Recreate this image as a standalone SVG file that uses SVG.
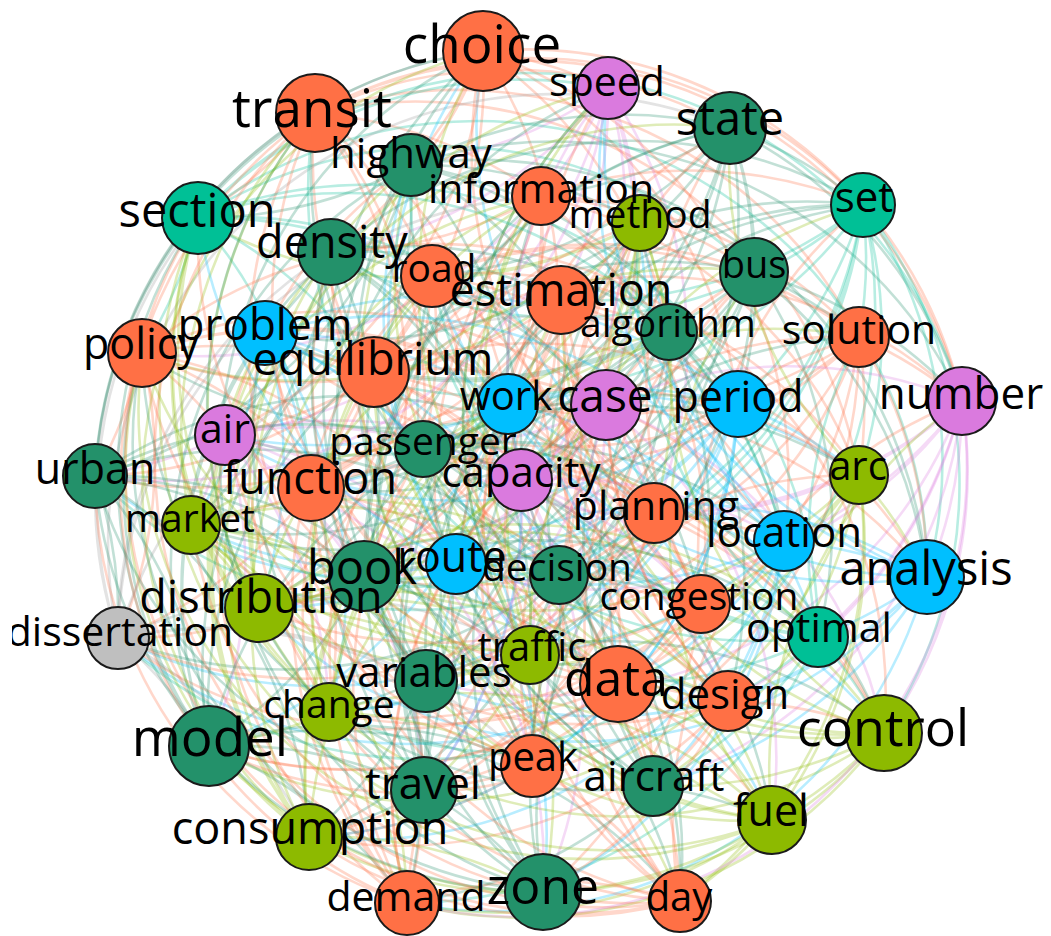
<svg xmlns="http://www.w3.org/2000/svg" width="1051" height="936" viewBox="0 0 1051 936">
<style>
#edges path{fill:none;stroke-width:2.6;stroke-opacity:.28}
.eo{stroke:#ff7045}.eg{stroke:#23916a}.et{stroke:#00c096}.el{stroke:#8dba00}.ep{stroke:#da7ade}.ec{stroke:#00bfff}.ex{stroke:#999}
.n circle{stroke:#1a1a1a;stroke-width:2}
.o{fill:#ff7045}.g{fill:#23916a}.t{fill:#00c096}.l{fill:#8dba00}.p{fill:#da7ade}.c{fill:#00bfff}.x{fill:#bfbfbf}
.n text{font-family:"Open Sans","Noto Sans",sans-serif;fill:#000;text-anchor:middle}
</style>
<defs><clipPath id="cp"><rect x="12" y="0" width="1039" height="936"/></clipPath></defs>
<rect width="1051" height="936" fill="#fff"/>
<g id="edges">
<path class="eo" d="M483 51A450 450 0 0 1 411 165M483 51A450 450 0 0 1 331 252M483 51A450 450 0 0 1 669 332M483 51A450 450 0 0 1 374 372M483 51A450 450 0 0 1 521 480M483 51A450 450 0 0 1 608 88M483 51A450 450 0 0 1 863 205M483 51A450 450 0 0 1 738 404M483 51A450 450 0 0 1 962 401"/>
<path class="eo" d="M315 113A450 450 0 0 1 541 196M315 113A450 450 0 0 1 432 276M315 113A450 450 0 0 1 859 337M315 113A450 450 0 0 1 508 404M315 113A450 450 0 0 1 859 475M315 113A450 450 0 0 1 730 128M315 113A450 450 0 0 1 198 218M315 113A450 450 0 0 1 962 401M315 113A450 450 0 0 1 863 205"/>
<path class="ep" d="M608 88A450 450 0 0 1 640 223M608 88A450 450 0 0 1 561 300M608 88A450 450 0 0 1 142 353M608 88A450 450 0 0 1 606 405M608 88A450 450 0 0 1 654 513M608 88A450 450 0 0 1 411 165M608 88A450 450 0 0 1 331 252M608 88A450 450 0 0 1 225 435"/>
<path class="eg" d="M730 128A450 450 0 0 1 863 205M730 128A450 450 0 0 1 754 272M730 128A450 450 0 0 1 265 333M730 128A450 450 0 0 1 738 404M730 128A450 450 0 0 1 191 525M730 128A450 450 0 0 1 541 196M730 128A450 450 0 0 1 432 276M730 128A450 450 0 0 1 423 449M730 128A450 450 0 0 1 962 401"/>
<path class="eg" d="M411 165A450 450 0 0 1 198 218M411 165A450 450 0 0 1 669 332M411 165A450 450 0 0 1 374 372M411 165A450 450 0 0 1 962 401M411 165A450 450 0 0 1 784 541M411 165A450 450 0 0 1 640 223M411 165A450 450 0 0 1 561 300M411 165A450 450 0 0 1 95 476"/>
<path class="eo" d="M541 196A450 450 0 0 1 331 252M541 196A450 450 0 0 1 859 337M541 196A450 450 0 0 1 508 404M541 196A450 450 0 0 1 225 435M541 196A450 450 0 0 1 364 576M541 196A450 450 0 0 1 863 205M541 196A450 450 0 0 1 754 272M541 196A450 450 0 0 1 311 488"/>
<path class="el" d="M640 223A450 450 0 0 1 432 276M640 223A450 450 0 0 1 142 353M640 223A450 450 0 0 1 606 405M640 223A450 450 0 0 1 423 449M640 223A450 450 0 0 1 456 564M640 223A450 450 0 0 1 198 218M640 223A450 450 0 0 1 669 332M640 223A450 450 0 0 1 521 480"/>
<path class="et" d="M863 205A450 450 0 0 1 561 300M863 205A450 450 0 0 1 265 333M863 205A450 450 0 0 1 738 404M863 205A450 450 0 0 1 95 476M863 205A450 450 0 0 1 559 575M863 205A450 450 0 0 1 331 252M863 205A450 450 0 0 1 859 337M863 205A450 450 0 0 1 859 475M863 205A450 450 0 0 1 884 733M863 205A450 450 0 0 1 927 577"/>
<path class="et" d="M198 218A450 450 0 0 1 754 272M198 218A450 450 0 0 1 374 372M198 218A450 450 0 0 1 962 401M198 218A450 450 0 0 1 311 488M198 218A450 450 0 0 1 927 577M198 218A450 450 0 0 1 432 276M198 218A450 450 0 0 1 142 353M198 218A450 450 0 0 1 654 513M198 218A450 450 0 0 1 608 88"/>
<path class="eg" d="M331 252A450 450 0 0 1 669 332M331 252A450 450 0 0 1 508 404M331 252A450 450 0 0 1 225 435M331 252A450 450 0 0 1 521 480M331 252A450 450 0 0 1 701 604M331 252A450 450 0 0 1 561 300M331 252A450 450 0 0 1 265 333M331 252A450 450 0 0 1 191 525"/>
<path class="eo" d="M432 276A450 450 0 0 1 859 337M432 276A450 450 0 0 1 606 405M432 276A450 450 0 0 1 423 449M432 276A450 450 0 0 1 859 475M432 276A450 450 0 0 1 259 608M432 276A450 450 0 0 1 754 272M432 276A450 450 0 0 1 374 372M432 276A450 450 0 0 1 784 541"/>
<path class="eo" d="M561 300A450 450 0 0 1 142 353M561 300A450 450 0 0 1 738 404M561 300A450 450 0 0 1 95 476M561 300A450 450 0 0 1 654 513M561 300A450 450 0 0 1 118 638M561 300A450 450 0 0 1 669 332M561 300A450 450 0 0 1 508 404M561 300A450 450 0 0 1 364 576"/>
<path class="eg" d="M754 272A450 450 0 0 1 265 333M754 272A450 450 0 0 1 962 401M754 272A450 450 0 0 1 311 488M754 272A450 450 0 0 1 191 525M754 272A450 450 0 0 1 818 637M754 272A450 450 0 0 1 859 337M754 272A450 450 0 0 1 606 405M754 272A450 450 0 0 1 456 564"/>
<path class="eg" d="M669 332A450 450 0 0 1 374 372M669 332A450 450 0 0 1 225 435M669 332A450 450 0 0 1 521 480M669 332A450 450 0 0 1 784 541M669 332A450 450 0 0 1 530 655M669 332A450 450 0 0 1 142 353M669 332A450 450 0 0 1 738 404M669 332A450 450 0 0 1 559 575"/>
<path class="eo" d="M859 337A450 450 0 0 1 508 404M859 337A450 450 0 0 1 423 449M859 337A450 450 0 0 1 859 475M859 337A450 450 0 0 1 364 576M859 337A450 450 0 0 1 618 684M859 337A450 450 0 0 1 265 333M859 337A450 450 0 0 1 962 401M859 337A450 450 0 0 1 927 577"/>
<path class="eo" d="M142 353A450 450 0 0 1 606 405M142 353A450 450 0 0 1 95 476M142 353A450 450 0 0 1 654 513M142 353A450 450 0 0 1 456 564M142 353A450 450 0 0 1 426 681M142 353A450 450 0 0 1 374 372M142 353A450 450 0 0 1 225 435M142 353A450 450 0 0 1 701 604"/>
<path class="ec" d="M265 333A450 450 0 0 1 738 404M265 333A450 450 0 0 1 311 488M265 333A450 450 0 0 1 191 525M265 333A450 450 0 0 1 559 575M265 333A450 450 0 0 1 329 712M265 333A450 450 0 0 1 508 404M265 333A450 450 0 0 1 423 449M265 333A450 450 0 0 1 259 608"/>
<path class="eo" d="M374 372A450 450 0 0 1 962 401M374 372A450 450 0 0 1 521 480M374 372A450 450 0 0 1 784 541M374 372A450 450 0 0 1 927 577M374 372A450 450 0 0 1 728 701M374 372A450 450 0 0 1 606 405M374 372A450 450 0 0 1 95 476M374 372A450 450 0 0 1 118 638"/>
<path class="ec" d="M508 404A450 450 0 0 1 225 435M508 404A450 450 0 0 1 859 475M508 404A450 450 0 0 1 364 576M508 404A450 450 0 0 1 701 604M508 404A450 450 0 0 1 209 746M508 404A450 450 0 0 1 738 404M508 404A450 450 0 0 1 311 488M508 404A450 450 0 0 1 818 637"/>
<path class="ep" d="M606 405A450 450 0 0 1 423 449M606 405A450 450 0 0 1 654 513M606 405A450 450 0 0 1 456 564M606 405A450 450 0 0 1 259 608M606 405A450 450 0 0 1 884 733M606 405A450 450 0 0 1 962 401M606 405A450 450 0 0 1 521 480M606 405A450 450 0 0 1 530 655"/>
<path class="ec" d="M738 404A450 450 0 0 1 95 476M738 404A450 450 0 0 1 191 525M738 404A450 450 0 0 1 559 575M738 404A450 450 0 0 1 118 638M738 404A450 450 0 0 1 532 766M738 404A450 450 0 0 1 225 435M738 404A450 450 0 0 1 859 475M738 404A450 450 0 0 1 618 684"/>
<path class="ep" d="M962 401A450 450 0 0 1 311 488M962 401A450 450 0 0 1 784 541M962 401A450 450 0 0 1 927 577M962 401A450 450 0 0 1 818 637M962 401A450 450 0 0 1 653 786M962 401A450 450 0 0 1 423 449M962 401A450 450 0 0 1 654 513M962 401A450 450 0 0 1 426 681M962 401A450 450 0 0 1 884 733"/>
<path class="ep" d="M225 435A450 450 0 0 1 521 480M225 435A450 450 0 0 1 364 576M225 435A450 450 0 0 1 701 604M225 435A450 450 0 0 1 530 655M225 435A450 450 0 0 1 424 790M225 435A450 450 0 0 1 95 476M225 435A450 450 0 0 1 191 525M225 435A450 450 0 0 1 329 712"/>
<path class="eg" d="M423 449A450 450 0 0 1 859 475M423 449A450 450 0 0 1 456 564M423 449A450 450 0 0 1 259 608M423 449A450 450 0 0 1 618 684M423 449A450 450 0 0 1 772 820M423 449A450 450 0 0 1 311 488M423 449A450 450 0 0 1 784 541M423 449A450 450 0 0 1 728 701"/>
<path class="eg" d="M95 476A450 450 0 0 1 654 513M95 476A450 450 0 0 1 559 575M95 476A450 450 0 0 1 118 638M95 476A450 450 0 0 1 426 681M95 476A450 450 0 0 1 309 837M95 476A450 450 0 0 1 521 480M95 476A450 450 0 0 1 364 576M95 476A450 450 0 0 1 209 746M95 476A450 450 0 0 1 315 113"/>
<path class="eo" d="M311 488A450 450 0 0 1 191 525M311 488A450 450 0 0 1 927 577M311 488A450 450 0 0 1 818 637M311 488A450 450 0 0 1 329 712M311 488A450 450 0 0 1 407 903M311 488A450 450 0 0 1 859 475M311 488A450 450 0 0 1 456 564M311 488A450 450 0 0 1 884 733"/>
<path class="ep" d="M521 480A450 450 0 0 1 784 541M521 480A450 450 0 0 1 701 604M521 480A450 450 0 0 1 530 655M521 480A450 450 0 0 1 728 701M521 480A450 450 0 0 1 543 892M521 480A450 450 0 0 1 654 513M521 480A450 450 0 0 1 559 575M521 480A450 450 0 0 1 532 766"/>
<path class="el" d="M859 475A450 450 0 0 1 364 576M859 475A450 450 0 0 1 259 608M859 475A450 450 0 0 1 618 684M859 475A450 450 0 0 1 209 746M859 475A450 450 0 0 1 680 901M859 475A450 450 0 0 1 191 525M859 475A450 450 0 0 1 927 577M859 475A450 450 0 0 1 653 786"/>
<path class="eo" d="M654 513A450 450 0 0 1 456 564M654 513A450 450 0 0 1 118 638M654 513A450 450 0 0 1 426 681M654 513A450 450 0 0 1 884 733M654 513A450 450 0 0 1 483 51M654 513A450 450 0 0 1 784 541M654 513A450 450 0 0 1 701 604M654 513A450 450 0 0 1 424 790"/>
<path class="el" d="M191 525A450 450 0 0 1 559 575M191 525A450 450 0 0 1 818 637M191 525A450 450 0 0 1 329 712M191 525A450 450 0 0 1 532 766M191 525A450 450 0 0 1 315 113M191 525A450 450 0 0 1 364 576M191 525A450 450 0 0 1 259 608M191 525A450 450 0 0 1 772 820"/>
<path class="ec" d="M784 541A450 450 0 0 1 927 577M784 541A450 450 0 0 1 530 655M784 541A450 450 0 0 1 728 701M784 541A450 450 0 0 1 653 786M784 541A450 450 0 0 1 608 88M784 541A450 450 0 0 1 456 564M784 541A450 450 0 0 1 118 638M784 541A450 450 0 0 1 309 837"/>
<path class="eg" d="M364 576A450 450 0 0 1 701 604M364 576A450 450 0 0 1 618 684M364 576A450 450 0 0 1 209 746M364 576A450 450 0 0 1 424 790M364 576A450 450 0 0 1 730 128M364 576A450 450 0 0 1 559 575M364 576A450 450 0 0 1 818 637M364 576A450 450 0 0 1 407 903"/>
<path class="ec" d="M456 564A450 450 0 0 1 259 608M456 564A450 450 0 0 1 426 681M456 564A450 450 0 0 1 884 733M456 564A450 450 0 0 1 772 820M456 564A450 450 0 0 1 411 165M456 564A450 450 0 0 1 927 577M456 564A450 450 0 0 1 530 655M456 564A450 450 0 0 1 543 892"/>
<path class="eg" d="M559 575A450 450 0 0 1 118 638M559 575A450 450 0 0 1 329 712M559 575A450 450 0 0 1 532 766M559 575A450 450 0 0 1 309 837M559 575A450 450 0 0 1 541 196M559 575A450 450 0 0 1 701 604M559 575A450 450 0 0 1 618 684M559 575A450 450 0 0 1 680 901"/>
<path class="ec" d="M927 577A450 450 0 0 1 818 637M927 577A450 450 0 0 1 728 701M927 577A450 450 0 0 1 653 786M927 577A450 450 0 0 1 407 903M927 577A450 450 0 0 1 640 223M927 577A450 450 0 0 1 259 608M927 577A450 450 0 0 1 426 681M927 577A450 450 0 0 1 483 51"/>
<path class="eo" d="M701 604A450 450 0 0 1 530 655M701 604A450 450 0 0 1 209 746M701 604A450 450 0 0 1 424 790M701 604A450 450 0 0 1 543 892M701 604A450 450 0 0 1 863 205M701 604A450 450 0 0 1 118 638M701 604A450 450 0 0 1 329 712M701 604A450 450 0 0 1 315 113"/>
<path class="el" d="M259 608A450 450 0 0 1 618 684M259 608A450 450 0 0 1 884 733M259 608A450 450 0 0 1 772 820M259 608A450 450 0 0 1 680 901M259 608A450 450 0 0 1 198 218M259 608A450 450 0 0 1 818 637M259 608A450 450 0 0 1 728 701M259 608A450 450 0 0 1 608 88"/>
<path class="ex" d="M118 638A450 450 0 0 1 426 681M118 638A450 450 0 0 1 532 766M118 638A450 450 0 0 1 309 837M118 638A450 450 0 0 1 483 51M118 638A450 450 0 0 1 331 252M118 638A450 450 0 0 1 530 655M118 638A450 450 0 0 1 209 746M118 638A450 450 0 0 1 730 128M118 638A450 450 0 0 1 198 218"/>
<path class="et" d="M818 637A450 450 0 0 1 329 712M818 637A450 450 0 0 1 653 786M818 637A450 450 0 0 1 407 903M818 637A450 450 0 0 1 315 113M818 637A450 450 0 0 1 432 276M818 637A450 450 0 0 1 618 684M818 637A450 450 0 0 1 884 733M818 637A450 450 0 0 1 411 165"/>
<path class="el" d="M530 655A450 450 0 0 1 728 701M530 655A450 450 0 0 1 424 790M530 655A450 450 0 0 1 543 892M530 655A450 450 0 0 1 608 88M530 655A450 450 0 0 1 561 300M530 655A450 450 0 0 1 426 681M530 655A450 450 0 0 1 532 766M530 655A450 450 0 0 1 541 196"/>
<path class="eo" d="M618 684A450 450 0 0 1 209 746M618 684A450 450 0 0 1 772 820M618 684A450 450 0 0 1 680 901M618 684A450 450 0 0 1 730 128M618 684A450 450 0 0 1 754 272M618 684A450 450 0 0 1 329 712M618 684A450 450 0 0 1 653 786M618 684A450 450 0 0 1 640 223"/>
<path class="eg" d="M426 681A450 450 0 0 1 884 733M426 681A450 450 0 0 1 309 837M426 681A450 450 0 0 1 483 51M426 681A450 450 0 0 1 411 165M426 681A450 450 0 0 1 669 332M426 681A450 450 0 0 1 728 701M426 681A450 450 0 0 1 424 790M426 681A450 450 0 0 1 863 205"/>
<path class="el" d="M329 712A450 450 0 0 1 532 766M329 712A450 450 0 0 1 407 903M329 712A450 450 0 0 1 315 113M329 712A450 450 0 0 1 541 196M329 712A450 450 0 0 1 859 337M329 712A450 450 0 0 1 209 746M329 712A450 450 0 0 1 772 820M329 712A450 450 0 0 1 198 218"/>
<path class="eo" d="M728 701A450 450 0 0 1 653 786M728 701A450 450 0 0 1 543 892M728 701A450 450 0 0 1 608 88M728 701A450 450 0 0 1 640 223M728 701A450 450 0 0 1 142 353M728 701A450 450 0 0 1 884 733M728 701A450 450 0 0 1 309 837M728 701A450 450 0 0 1 331 252"/>
<path class="eg" d="M209 746A450 450 0 0 1 424 790M209 746A450 450 0 0 1 680 901M209 746A450 450 0 0 1 730 128M209 746A450 450 0 0 1 863 205M209 746A450 450 0 0 1 265 333M209 746A450 450 0 0 1 532 766M209 746A450 450 0 0 1 407 903M209 746A450 450 0 0 1 432 276M209 746A450 450 0 0 1 198 218M209 746A450 450 0 0 1 142 353"/>
<path class="el" d="M884 733A450 450 0 0 1 772 820M884 733A450 450 0 0 1 483 51M884 733A450 450 0 0 1 411 165M884 733A450 450 0 0 1 198 218M884 733A450 450 0 0 1 374 372M884 733A450 450 0 0 1 653 786M884 733A450 450 0 0 1 543 892M884 733A450 450 0 0 1 561 300M884 733A450 450 0 0 1 407 903M884 733A450 450 0 0 1 209 746"/>
<path class="eo" d="M532 766A450 450 0 0 1 309 837M532 766A450 450 0 0 1 315 113M532 766A450 450 0 0 1 541 196M532 766A450 450 0 0 1 331 252M532 766A450 450 0 0 1 508 404M532 766A450 450 0 0 1 424 790M532 766A450 450 0 0 1 680 901M532 766A450 450 0 0 1 754 272"/>
<path class="eg" d="M653 786A450 450 0 0 1 407 903M653 786A450 450 0 0 1 608 88M653 786A450 450 0 0 1 640 223M653 786A450 450 0 0 1 432 276M653 786A450 450 0 0 1 606 405M653 786A450 450 0 0 1 772 820M653 786A450 450 0 0 1 483 51M653 786A450 450 0 0 1 669 332"/>
<path class="eg" d="M424 790A450 450 0 0 1 543 892M424 790A450 450 0 0 1 730 128M424 790A450 450 0 0 1 863 205M424 790A450 450 0 0 1 561 300M424 790A450 450 0 0 1 738 404M424 790A450 450 0 0 1 309 837M424 790A450 450 0 0 1 315 113M424 790A450 450 0 0 1 859 337"/>
<path class="el" d="M772 820A450 450 0 0 1 680 901M772 820A450 450 0 0 1 411 165M772 820A450 450 0 0 1 198 218M772 820A450 450 0 0 1 754 272M772 820A450 450 0 0 1 962 401M772 820A450 450 0 0 1 407 903M772 820A450 450 0 0 1 608 88M772 820A450 450 0 0 1 142 353M772 820A450 450 0 0 1 309 837"/>
<path class="el" d="M309 837A450 450 0 0 1 483 51M309 837A450 450 0 0 1 541 196M309 837A450 450 0 0 1 331 252M309 837A450 450 0 0 1 669 332M309 837A450 450 0 0 1 225 435M309 837A450 450 0 0 1 543 892M309 837A450 450 0 0 1 730 128M309 837A450 450 0 0 1 265 333M309 837A450 450 0 0 1 142 353"/>
<path class="eo" d="M407 903A450 450 0 0 1 315 113M407 903A450 450 0 0 1 640 223M407 903A450 450 0 0 1 432 276M407 903A450 450 0 0 1 859 337M407 903A450 450 0 0 1 423 449M407 903A450 450 0 0 1 680 901M407 903A450 450 0 0 1 411 165M407 903A450 450 0 0 1 374 372M407 903A450 450 0 0 1 95 476"/>
<path class="eg" d="M543 892A450 450 0 0 1 608 88M543 892A450 450 0 0 1 863 205M543 892A450 450 0 0 1 561 300M543 892A450 450 0 0 1 142 353M543 892A450 450 0 0 1 95 476M543 892A450 450 0 0 1 483 51M543 892A450 450 0 0 1 541 196M543 892A450 450 0 0 1 508 404"/>
<path class="eo" d="M680 901A450 450 0 0 1 730 128M680 901A450 450 0 0 1 198 218M680 901A450 450 0 0 1 754 272M680 901A450 450 0 0 1 265 333M680 901A450 450 0 0 1 311 488M680 901A450 450 0 0 1 315 113M680 901A450 450 0 0 1 640 223M680 901A450 450 0 0 1 606 405M680 901A450 450 0 0 1 309 837"/>
<path class="eo" d="M483 51A450 450 0 0 1 225 435M483 51A450 450 0 0 1 784 541"/>
<path class="eo" d="M315 113A450 450 0 0 1 423 449M315 113A450 450 0 0 1 364 576"/>
<path class="ep" d="M608 88A450 450 0 0 1 95 476M608 88A450 450 0 0 1 456 564"/>
<path class="eg" d="M730 128A450 450 0 0 1 311 488M730 128A450 450 0 0 1 559 575"/>
<path class="eg" d="M411 165A450 450 0 0 1 521 480M411 165A450 450 0 0 1 927 577"/>
<path class="eo" d="M541 196A450 450 0 0 1 859 475M541 196A450 450 0 0 1 701 604"/>
<path class="el" d="M640 223A450 450 0 0 1 654 513M640 223A450 450 0 0 1 259 608"/>
<path class="et" d="M863 205A450 450 0 0 1 191 525M863 205A450 450 0 0 1 118 638"/>
<path class="et" d="M198 218A450 450 0 0 1 784 541M198 218A450 450 0 0 1 818 637"/>
<path class="eg" d="M331 252A450 450 0 0 1 364 576M331 252A450 450 0 0 1 530 655"/>
<path class="eo" d="M432 276A450 450 0 0 1 456 564M432 276A450 450 0 0 1 618 684"/>
<path class="eo" d="M561 300A450 450 0 0 1 559 575M561 300A450 450 0 0 1 426 681"/>
<path class="eg" d="M754 272A450 450 0 0 1 927 577M754 272A450 450 0 0 1 329 712"/>
<path class="eg" d="M669 332A450 450 0 0 1 701 604M669 332A450 450 0 0 1 728 701"/>
<path class="eo" d="M859 337A450 450 0 0 1 259 608M859 337A450 450 0 0 1 209 746"/>
<path class="eo" d="M142 353A450 450 0 0 1 118 638M142 353A450 450 0 0 1 884 733"/>
<path class="ec" d="M265 333A450 450 0 0 1 818 637M265 333A450 450 0 0 1 532 766"/>
<path class="eo" d="M374 372A450 450 0 0 1 530 655M374 372A450 450 0 0 1 653 786"/>
<path class="ec" d="M508 404A450 450 0 0 1 618 684M508 404A450 450 0 0 1 424 790"/>
<path class="ep" d="M606 405A450 450 0 0 1 426 681M606 405A450 450 0 0 1 772 820"/>
<path class="ec" d="M738 404A450 450 0 0 1 329 712M738 404A450 450 0 0 1 309 837"/>
<path class="ep" d="M962 401A450 450 0 0 1 728 701M962 401A450 450 0 0 1 407 903"/>
<path class="ep" d="M225 435A450 450 0 0 1 209 746M225 435A450 450 0 0 1 543 892"/>
<path class="eg" d="M423 449A450 450 0 0 1 884 733M423 449A450 450 0 0 1 680 901"/>
<path class="eg" d="M95 476A450 450 0 0 1 532 766M95 476A450 450 0 0 1 483 51"/>
<path class="eo" d="M311 488A450 450 0 0 1 653 786M311 488A450 450 0 0 1 315 113"/>
<path class="ep" d="M521 480A450 450 0 0 1 424 790M521 480A450 450 0 0 1 608 88"/>
<path class="el" d="M859 475A450 450 0 0 1 772 820M859 475A450 450 0 0 1 730 128"/>
<path class="eo" d="M654 513A450 450 0 0 1 309 837M654 513A450 450 0 0 1 411 165"/>
<path class="el" d="M191 525A450 450 0 0 1 407 903M191 525A450 450 0 0 1 541 196"/>
<path class="ec" d="M784 541A450 450 0 0 1 543 892M784 541A450 450 0 0 1 640 223"/>
<path class="eg" d="M364 576A450 450 0 0 1 680 901M364 576A450 450 0 0 1 863 205"/>
<path class="ec" d="M456 564A450 450 0 0 1 483 51M456 564A450 450 0 0 1 198 218"/>
<path class="eg" d="M559 575A450 450 0 0 1 315 113M559 575A450 450 0 0 1 331 252"/>
<path class="ec" d="M927 577A450 450 0 0 1 608 88M927 577A450 450 0 0 1 432 276"/>
<path class="eo" d="M701 604A450 450 0 0 1 730 128M701 604A450 450 0 0 1 561 300"/>
<path class="el" d="M259 608A450 450 0 0 1 411 165M259 608A450 450 0 0 1 754 272"/>
<path class="ex" d="M118 638A450 450 0 0 1 541 196M118 638A450 450 0 0 1 669 332"/>
<path class="et" d="M818 637A450 450 0 0 1 640 223M818 637A450 450 0 0 1 859 337"/>
<path class="el" d="M530 655A450 450 0 0 1 863 205M530 655A450 450 0 0 1 142 353"/>
<path class="eo" d="M618 684A450 450 0 0 1 198 218M618 684A450 450 0 0 1 265 333"/>
<path class="eg" d="M426 681A450 450 0 0 1 331 252M426 681A450 450 0 0 1 374 372"/>
<path class="el" d="M329 712A450 450 0 0 1 432 276M329 712A450 450 0 0 1 508 404"/>
<path class="eo" d="M728 701A450 450 0 0 1 561 300M728 701A450 450 0 0 1 606 405"/>
<path class="eg" d="M209 746A450 450 0 0 1 754 272M209 746A450 450 0 0 1 738 404"/>
<path class="el" d="M884 733A450 450 0 0 1 669 332"/>
<path class="eo" d="M532 766A450 450 0 0 1 859 337M532 766A450 450 0 0 1 225 435"/>
<path class="eg" d="M653 786A450 450 0 0 1 142 353M653 786A450 450 0 0 1 423 449"/>
<path class="eg" d="M424 790A450 450 0 0 1 265 333M424 790A450 450 0 0 1 95 476"/>
<path class="el" d="M772 820A450 450 0 0 1 374 372M772 820A450 450 0 0 1 311 488"/>
<path class="el" d="M309 837A450 450 0 0 1 508 404M309 837A450 450 0 0 1 521 480"/>
<path class="eo" d="M407 903A450 450 0 0 1 606 405M407 903A450 450 0 0 1 859 475"/>
<path class="eg" d="M543 892A450 450 0 0 1 738 404M543 892A450 450 0 0 1 654 513"/>
<path class="eo" d="M680 901A450 450 0 0 1 962 401M680 901A450 450 0 0 1 191 525"/>
</g>
<g id="nodes">
<g id="choice" class="n"><circle class="o" cx="483" cy="51" r="40"/><text x="482" y="63" font-size="53">choice</text></g>
<g id="transit" class="n"><circle class="o" cx="315" cy="113" r="39"/><text x="312" y="127" font-size="53">transit</text></g>
<g id="speed" class="n"><circle class="p" cx="608" cy="88" r="31"/><text x="607" y="96" font-size="41">speed</text></g>
<g id="state" class="n"><circle class="g" cx="730" cy="128" r="36"/><text x="730" y="135" font-size="47">state</text></g>
<g id="method" class="n"><circle class="l" cx="640" cy="223" r="28"/><text x="640" y="228" font-size="39">method</text></g>
<g id="highway" class="n"><circle class="g" cx="411" cy="165" r="31"/><text x="411" y="168" font-size="42">highway</text></g>
<g id="information" class="n"><circle class="o" cx="541" cy="196" r="29"/><text x="541" y="203" font-size="41">information</text></g>
<g id="set" class="n"><circle class="t" cx="863" cy="205" r="32"/><text x="864" y="212" font-size="42">set</text></g>
<g id="section" class="n"><circle class="t" cx="198" cy="218" r="36"/><text x="197" y="227" font-size="47">section</text></g>
<g id="road" class="n"><circle class="o" cx="432" cy="276" r="31"/><text x="434" y="282" font-size="39">road</text></g>
<g id="density" class="n"><circle class="g" cx="331" cy="252" r="33"/><text x="332" y="258" font-size="45">density</text></g>
<g id="estimation" class="n"><circle class="o" cx="561" cy="300" r="34"/><text x="561" y="306" font-size="45">estimation</text></g>
<g id="bus" class="n"><circle class="g" cx="754" cy="272" r="34"/><text x="754" y="278" font-size="38">bus</text></g>
<g id="algorithm" class="n"><circle class="g" cx="669" cy="332" r="28"/><text x="668" y="337" font-size="39">algorithm</text></g>
<g id="solution" class="n"><circle class="o" cx="859" cy="337" r="30"/><text x="859" y="344" font-size="41">solution</text></g>
<g id="policy" class="n"><circle class="o" cx="142" cy="353" r="34"/><text x="141" y="359" font-size="43">policy</text></g>
<g id="problem" class="n"><circle class="c" cx="265" cy="333" r="32"/><text x="265" y="340" font-size="44">problem</text></g>
<g id="equilibrium" class="n"><circle class="o" cx="374" cy="372" r="35"/><text x="373" y="375" font-size="45">equilibrium</text></g>
<g id="work" class="n"><circle class="c" cx="508" cy="404" r="30"/><text x="506" y="410" font-size="40">work</text></g>
<g id="case" class="n"><circle class="p" cx="606" cy="405" r="35"/><text x="605" y="412" font-size="46">case</text></g>
<g id="period" class="n"><circle class="c" cx="738" cy="404" r="33"/><text x="738" y="412" font-size="43">period</text></g>
<g id="number" class="n"><circle class="p" cx="962" cy="401" r="34"/><text x="961" y="409" font-size="44">number</text></g>
<g id="air" class="n"><circle class="p" cx="225" cy="435" r="30"/><text x="225" y="443" font-size="41">air</text></g>
<g id="passenger" class="n"><circle class="g" cx="423" cy="449" r="28"/><text x="423" y="455" font-size="39">passenger</text></g>
<g id="urban" class="n"><circle class="g" cx="95" cy="476" r="32"/><text x="95" y="484" font-size="43">urban</text></g>
<g id="function" class="n"><circle class="o" cx="311" cy="488" r="33"/><text x="310" y="494" font-size="45">function</text></g>
<g id="capacity" class="n"><circle class="p" cx="521" cy="480" r="31"/><text x="521" y="487" font-size="42">capacity</text></g>
<g id="arc" class="n"><circle class="l" cx="859" cy="475" r="29"/><text x="858" y="480" font-size="40">arc</text></g>
<g id="planning" class="n"><circle class="o" cx="654" cy="513" r="30"/><text x="656" y="520" font-size="41">planning</text></g>
<g id="market" class="n"><circle class="l" cx="191" cy="525" r="29"/><text x="190" y="532" font-size="39">market</text></g>
<g id="location" class="n"><circle class="c" cx="784" cy="541" r="30"/><text x="784" y="547" font-size="42">location</text></g>
<g id="book" class="n"><circle class="g" cx="364" cy="576" r="35"/><text x="362" y="584" font-size="47">book</text></g>
<g id="route" class="n"><circle class="c" cx="456" cy="564" r="30"/><text x="452" y="572" font-size="43">route</text></g>
<g id="decision" class="n"><circle class="g" cx="559" cy="575" r="29"/><text x="557" y="581" font-size="39">decision</text></g>
<g id="analysis" class="n"><circle class="c" cx="927" cy="577" r="37"/><text x="926" y="585" font-size="47">analysis</text></g>
<g id="optimal" class="n"><circle class="t" cx="818" cy="637" r="30"/><text x="819" y="642" font-size="41">optimal</text></g>
<g id="congestion" class="n"><circle class="o" cx="701" cy="604" r="29"/><text x="699" y="610" font-size="39">congestion</text></g>
<g id="distribution" class="n"><circle class="l" cx="259" cy="608" r="34"/><text x="261" y="613" font-size="45">distribution</text></g>
<g id="dissertation" class="n" clip-path="url(#cp)"><circle class="x" cx="118" cy="638" r="31"/><text x="120" y="646" font-size="41">dissertation</text></g>
<g id="data" class="n"><circle class="o" cx="618" cy="684" r="38"/><text x="616" y="696" font-size="50">data</text></g>
<g id="traffic" class="n"><circle class="l" cx="530" cy="655" r="29"/><text x="532" y="661" font-size="40">traffic</text></g>
<g id="variables" class="n"><circle class="g" cx="426" cy="681" r="31"/><text x="424" y="687" font-size="42">variables</text></g>
<g id="change" class="n"><circle class="l" cx="329" cy="712" r="29"/><text x="329" y="718" font-size="39">change</text></g>
<g id="design" class="n"><circle class="o" cx="728" cy="701" r="30"/><text x="725" y="709" font-size="42">design</text></g>
<g id="model" class="n"><circle class="g" cx="209" cy="746" r="40"/><text x="210" y="756" font-size="53">model</text></g>
<g id="control" class="n"><circle class="l" cx="884" cy="733" r="38"/><text x="883" y="746" font-size="52">control</text></g>
<g id="peak" class="n"><circle class="o" cx="532" cy="766" r="31"/><text x="533" y="771" font-size="40">peak</text></g>
<g id="aircraft" class="n"><circle class="g" cx="653" cy="786" r="30"/><text x="654" y="791" font-size="42">aircraft</text></g>
<g id="travel" class="n"><circle class="g" cx="424" cy="790" r="33"/><text x="423" y="799" font-size="44">travel</text></g>
<g id="fuel" class="n"><circle class="l" cx="772" cy="820" r="34"/><text x="771" y="826" font-size="43">fuel</text></g>
<g id="consumption" class="n"><circle class="l" cx="309" cy="837" r="33"/><text x="310" y="844" font-size="45">consumption</text></g>
<g id="demand" class="n"><circle class="o" cx="407" cy="903" r="32"/><text x="406" y="911" font-size="41">demand</text></g>
<g id="zone" class="n"><circle class="g" cx="543" cy="892" r="38"/><text x="543" y="904" font-size="50">zone</text></g>
<g id="day" class="n"><circle class="o" cx="680" cy="901" r="31"/><text x="679" y="911" font-size="40">day</text></g>
</g>
</svg>
